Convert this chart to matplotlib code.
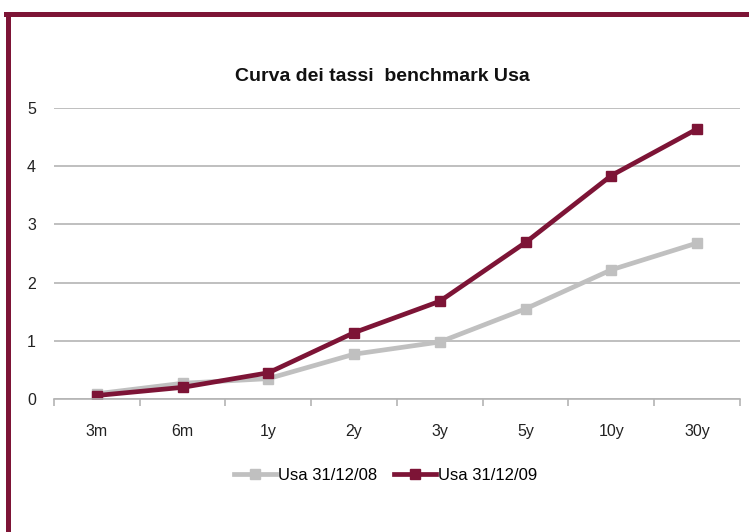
import matplotlib
matplotlib.use("Agg")
import matplotlib.pyplot as plt
from matplotlib.lines import Line2D

categories = ["3m", "6m", "1y", "2y", "3y", "5y", "10y", "30y"]
usa_2008 = [0.09, 0.27, 0.35, 0.77, 0.98, 1.55, 2.22, 2.68]
usa_2009 = [0.06, 0.20, 0.45, 1.14, 1.68, 2.69, 3.84, 4.64]
series_labels = ["Usa 31/12/08", "Usa 31/12/09"]
title = "Curva dei tassi  benchmark Usa"

plt.rcParams['font.family'] = ['Liberation Sans Narrow', 'Liberation Sans', 'DejaVu Sans']

RED = "#7d1436"
GREY = "#c0c0c0"

fig = plt.figure(figsize=(7.49, 5.32), dpi=100)
ax = fig.add_axes([0.072, 0.25, 0.916, 0.547])

x = list(range(len(categories)))
ax.plot(x, usa_2008, color=GREY, lw=3.4, marker="s", ms=7.5, label=series_labels[0])
ax.plot(x, usa_2009, color=RED, lw=3.4, marker="s", ms=7.5, label=series_labels[1])

ax.set_xlim(-0.5, len(categories) - 0.5)
ax.set_ylim(0, 5)
ax.set_yticks([0, 1, 2, 3, 4, 5])
ax.yaxis.grid(True, color="#b4b4b4", lw=1.2)
ax.set_axisbelow(True)
for s in ["top", "right", "left"]:
    ax.spines[s].set_visible(False)
ax.spines["bottom"].set_color("#b4b4b4")
ax.spines["bottom"].set_linewidth(1.2)
ax.tick_params(axis="y", length=0, labelsize=11.5, pad=13, labelcolor="#222222")
ax.set_xticks(x)
ax.set_xticklabels(categories, fontsize=11.5, color="#222222")
ax.tick_params(axis="x", length=0, pad=18)
ax.set_xticks([i + 0.5 for i in range(-1, len(categories))], minor=True)
ax.tick_params(axis="x", which="minor", length=5, color="#b4b4b4", width=1.2)

fig.text(0.51, 0.857, title, ha="center", va="center", fontsize=14, fontweight="bold", color="#111111")

fig.legend(loc="center", bbox_to_anchor=(0.515, 0.107), ncol=2, frameon=False,
           fontsize=12, handlelength=2.5, columnspacing=1.0, handletextpad=0.15)

fig.add_artist(Line2D([0.008, 1.0], [0.9737, 0.9737], color=RED, lw=3.6, transform=fig.transFigure))
fig.add_artist(Line2D([0.0113, 0.0113], [0.9737, 0.0], color=RED, lw=3.6, transform=fig.transFigure))

fig.savefig("out.png", dpi=100)
